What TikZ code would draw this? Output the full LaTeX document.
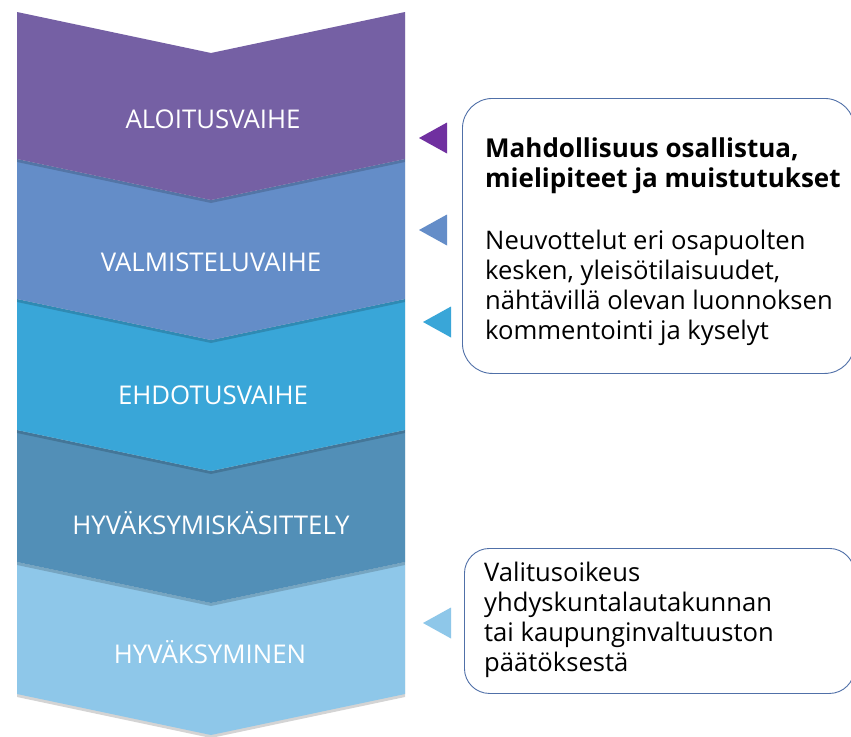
\documentclass[tikz,border=0pt]{standalone}
\usepackage{fontspec}
\setmainfont{Open Sans}
\usetikzlibrary{shadows}

\definecolor{aloituscol}{HTML}{7560A4}
\definecolor{valmistelucol}{HTML}{648DC8}
\definecolor{ehdotuscol}{HTML}{39A6D8}
\definecolor{kasittelycol}{HTML}{528FB7}
\definecolor{hyvaksyminencol}{HTML}{8EC7E9}
\definecolor{pointpurple}{HTML}{7030A0}
\definecolor{boxline}{HTML}{5070A8}

\tikzset{
    phase/.style={drop shadow={shadow xshift=0pt, shadow yshift=-3pt, opacity=.17, fill=black}},
    phaselabel/.style={text=white, anchor=base, inner sep=0pt, font=\fontsize{25.8}{30}\selectfont},
    infobox/.style={draw=boxline, line width=0.9pt, fill=white, anchor=north west},
    infotext/.style={anchor=north west, inner sep=0pt, align=left, font=\fontsize{25.6}{30}\selectfont}
}

% one chevron band: top edge y, bottom edge y, colour
\newcommand{\band}[3]{%
    \fill[#3, phase] (17,#1) -- (211,#1+41) -- (405,#1) -- (405,#2) -- (211,#2+41) -- (17,#2) -- cycle;}
% small marker triangle: tip x, tip y, colour
\newcommand{\marker}[3]{%
    \fill[#3] (#1,#2) -- ++(28,-15.5) -- ++(0,31) -- cycle;}

\begin{document}
\begin{tikzpicture}[x=1pt, y=-1pt]
	\clip (0,0) rectangle (851,736);
	\fill[white] (0,0) rectangle (851,736);

	% bands, lowest first so each casts its shadow on the next
	\band{562}{694}{hyvaksyminencol}
	\band{430}{562}{kasittelycol}
	\band{299}{430}{ehdotuscol}
	\band{159}{299}{valmistelucol}
	\band{12}{159}{aloituscol}

	\node[phaselabel] (aloitus) at (213,128.5) {ALOITUSVAIHE};
	\node[phaselabel] (valmistelu) at (211,271) {VALMISTELUVAIHE};
	\node[phaselabel] (ehdotus) at (213,404) {EHDOTUSVAIHE};
	\node[phaselabel] (kasittely) at (211,534) {HYVÄKSYMISKÄSITTELY};
	\node[phaselabel] (hyvaksyminen) at (210,663) {HYVÄKSYMINEN};

	\marker{419}{138}{pointpurple}
	\marker{419}{230}{valmistelucol}
	\marker{423}{322}{ehdotuscol}
	\marker{423}{623}{hyvaksyminencol}

	% participation box
	\node[infobox, rounded corners=30pt, minimum width=392pt, minimum height=275pt] (osallistuminen) at (462,98) {};
	\node[infotext] (osallistuminenteksti) at (485,138) {{\fontsize{26}{30}\selectfont\textbf{Mahdollisuus osallistua,}}\\{\fontsize{26}{30}\selectfont\textbf{mielipiteet ja muistutukset}}\\[32pt]Neuvottelut eri osapuolten\\kesken, yleisötilaisuudet,\\nähtävillä olevan luonnoksen\\kommentointi ja kyselyt};

	% appeal box
	\node[infobox, rounded corners=25pt, minimum width=390pt, minimum height=145pt] (valitus) at (464,548) {};
	\node[infotext] (valitusteksti) at (484,562) {Valitusoikeus\\yhdyskuntalautakunnan\\tai kaupunginvaltuuston\\päätöksestä};

\end{tikzpicture}
\end{document}
